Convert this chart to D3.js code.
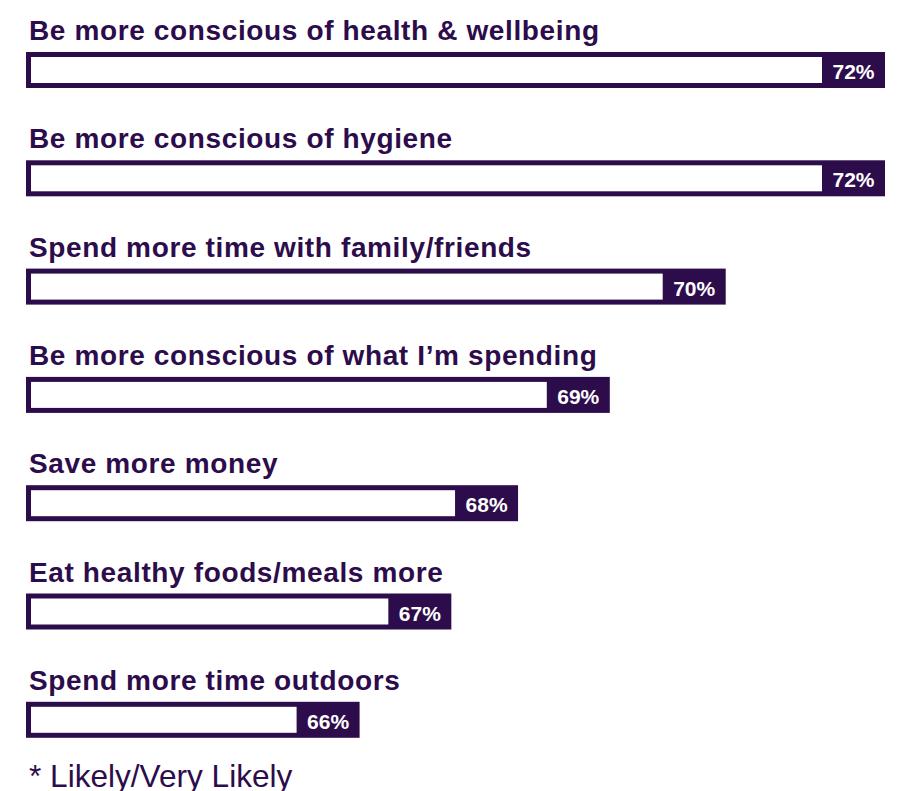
<!DOCTYPE html>
<html>
<head>
<meta charset="utf-8">
<script src="https://cdn.jsdelivr.net/npm/d3@7"></script>
<style>
  body { margin: 0; background: #fff; }
  svg text { font-family: "Liberation Sans", Arial, sans-serif; }
</style>
</head>
<body>
<svg id="chart" width="911" height="791"></svg>
<script>
// statements, in the order shown
const categories = [
  "Be more conscious of health & wellbeing",
  "Be more conscious of hygiene",
  "Spend more time with family/friends",
  "Be more conscious of what I\u2019m spending",
  "Save more money",
  "Eat healthy foods/meals more",
  "Spend more time outdoors"
];
// share answering likely / very likely (%)
const values = [72.4, 72.4, 70.49, 69.1, 68.0, 67.2, 66.1];
const footnote = "* Likely/Very Likely";

const purple = "#2d0c4b";
const width = 911, height = 791;
const barH = 36, border = 5, tagW = 63;

const svg = d3.select("#chart");

// bars start at a truncated baseline, as in the original graphic
const x = d3.scaleLinear().domain([62.1, 72.4]).range([26, 885]);
const y = d3.scalePoint().domain(categories).range([52, 52 + 6 * 108.3]);

const rows = svg.append("g").selectAll("g")
  .data(categories.map((c, i) => ({cat: c, val: values[i]})))
  .join("g")
  .attr("transform", d => "translate(0," + y(d.cat) + ")");

rows.append("text")
  .attr("x", 29)
  .attr("y", -12)
  .attr("fill", purple)
  .style("font-size", "28px")
  .style("letter-spacing", "0.63px")
  .style("font-weight", "bold")
  .text(d => d.cat);

// outer dark bar
rows.append("rect")
  .attr("x", x(62.1))
  .attr("y", 0)
  .attr("width", d => x(d.val) - x(62.1))
  .attr("height", barH)
  .attr("fill", purple);

// white inside, leaving the dark tag at the end
rows.append("rect")
  .attr("x", x(62.1) + border)
  .attr("y", border)
  .attr("width", d => x(d.val) - x(62.1) - border - tagW)
  .attr("height", barH - 2 * border)
  .attr("fill", "#fff");

rows.append("text")
  .attr("x", d => x(d.val) - tagW / 2)
  .attr("y", 27)
  .attr("text-anchor", "middle")
  .attr("fill", "#fff")
  .style("font-size", "21px")
  .style("font-weight", "bold")
  .text(d => Math.round(d.val) + "%");

svg.append("text")
  .attr("x", 29)
  .attr("y", 787)
  .attr("fill", purple)
  .style("font-size", "31.6px")
  .text(footnote);
</script>
</body>
</html>
